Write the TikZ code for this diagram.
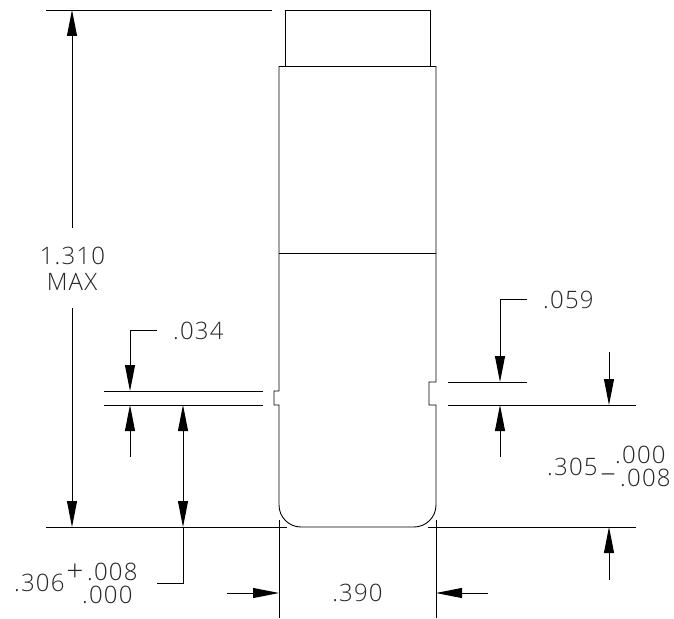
\documentclass[tikz,border=0pt]{standalone}
\usepackage{fontspec}
\newfontfamily\cadf[LetterSpace=5]{Open Sans Light}
\usetikzlibrary{arrows.meta}
\tikzset{
  ln/.style={line width=0.9pt,black},
  dimarrow/.style={ln,-{Triangle[length=26pt,width=10pt]}},
  lbl/.style={inner sep=0pt,font=\cadf\fontsize{24}{24}\selectfont,text=black!85},
}
\begin{document}
\begin{tikzpicture}[x=1pt,y=-1pt]
\useasboundingbox (0,0) rectangle (674,618);
\fill[white] (0,0) rectangle (674,618);
% part outline
\draw[ln] (285,66) -- (285,10) -- (430,10) -- (430,66);
\draw[ln] (279,66) -- (436,66);
\draw[ln] (279,66) -- (279,391) -- (274,391) -- (274,405) -- (279,405) -- (279,505)
  arc[start angle=180,end angle=90,radius=22] -- (414,527) arc[start angle=90,end angle=0,radius=22]
  -- (436,405) -- (429,405) -- (429,382) -- (436,382) -- (436,66);
\draw[ln] (279,253) -- (436,253);
% extension lines
\draw[ln] (46,10) -- (272,10);
\draw[ln] (46,527) -- (287,527);
\draw[ln] (428,527) -- (636,527);
\draw[ln] (104,391) -- (263,391);
\draw[ln] (104,405) -- (263,405);
\draw[ln] (448,382) -- (527,382);
\draw[ln] (448,405) -- (636,405);
\draw[ln] (279,520) -- (279,618);
\draw[ln] (436,520) -- (436,618);
% 1.310
\draw[dimarrow] (72,228) -- (72,10);
\draw[dimarrow] (72,308) -- (72,527);
% .034
\draw[dimarrow] (157,330) -- (130,330) -- (130,391);
\draw[dimarrow] (130,457) -- (130,405);
% .306
\draw[dimarrow] (183,470) -- (183,405);
\draw[dimarrow] (183,470) -- (183,527);
\draw[ln] (183,527) -- (183,583) -- (157,583);
% .059
\draw[dimarrow] (527,299) -- (500,299) -- (500,382);
\draw[dimarrow] (500,457) -- (500,405);
% .305
\draw[dimarrow] (609,352) -- (609,405);
\draw[dimarrow] (609,580) -- (609,527);
% .390
\draw[dimarrow] (227,593) -- (279,593);
\draw[dimarrow] (488,593) -- (436,593);
% labels
\node[lbl] (t1) at (72.5,256) {1.310};
\node[lbl] (t2) at (72,282) {MAX};
\node[lbl,anchor=west] (t3) at (173,331) {.034};
\node[lbl,anchor=west] (t4) at (543,300) {.059};
\node[lbl,anchor=west] (t5) at (547,467) {.305};
\node[lbl,anchor=west] (t6) at (615,455) {.000};
\node[lbl,anchor=west] (t7) at (620,478) {.008};
\node[lbl,font=\cadf\fontsize{30}{30}\selectfont] (t13) at (608,478) {–};
\node[lbl,anchor=west] (t8) at (14,583) {.306};
\node[lbl,font=\cadf\fontsize{30}{30}\selectfont] (t9) at (75,573) {+};
\node[lbl,anchor=west] (t10) at (87,572) {.008};
\node[lbl,anchor=west] (t11) at (82,595) {.000};
\node[lbl,anchor=center] (t12) at (357.5,593) {.390};
\end{tikzpicture}
\end{document}
